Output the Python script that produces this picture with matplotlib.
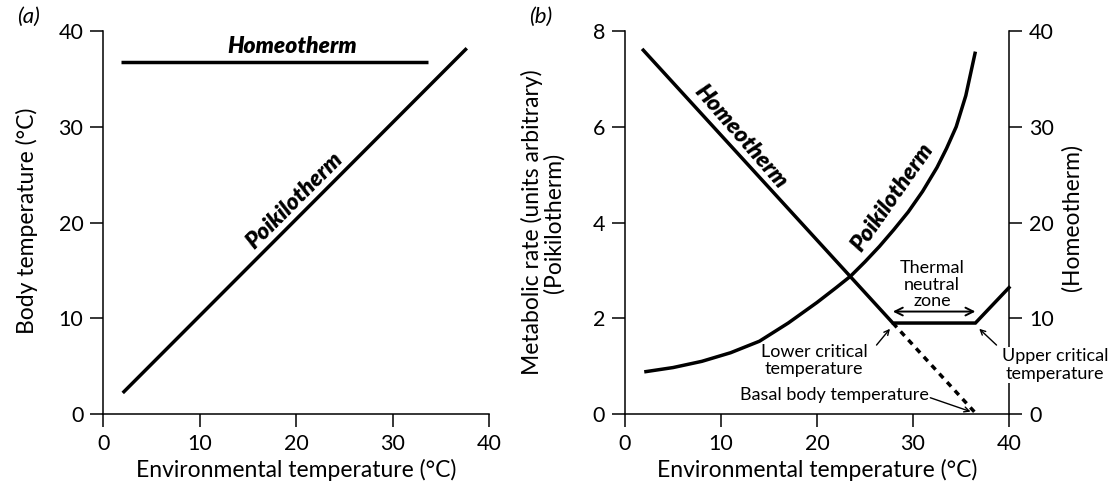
import numpy as np
import matplotlib
matplotlib.use("Agg")
import matplotlib.pyplot as plt

plt.rcParams['font.family'] = ['Lato', 'DejaVu Sans']
plt.rcParams['font.size'] = 15

# panel (a): body temperature vs environmental temperature
a_homeo_x = [1.8, 33.7]
a_homeo_y = [36.8, 36.8]
a_poik_x = [2.0, 37.7]
a_poik_y = [2.2, 38.2]

# panel (b): metabolic rate
b_poik_x = [2, 5, 8, 11, 14, 17, 20, 22, 23.5, 25, 26.5, 28, 29.5, 31, 32.5, 33.5, 34.5, 35.5, 36.5]
b_poik_y = [0.88, 0.97, 1.1, 1.28, 1.52, 1.9, 2.33, 2.64, 2.88, 3.18, 3.5, 3.85, 4.22, 4.65, 5.15, 5.55, 6.0, 6.65, 7.57]
b_homeo_x = [1.9, 27.9, 36.5, 40]
b_homeo_y = [38.0, 9.5, 9.5, 13.2]
b_basal_x = [27.9, 36.6]
b_basal_y = [9.5, 0.0]

ticks40 = [0, 10, 20, 30, 40]
ticks8 = [0, 2, 4, 6, 8]

LW = 2.5
SP = 1.1
TICKFS = 15.5
LABFS = 16.5
CURVEFS = 16.5
NOTEFS = 13


def style(ax, right=False):
    ax.spines['top'].set_visible(False)
    ax.spines['right'].set_visible(right)
    for s in ax.spines.values():
        s.set_linewidth(SP)
    ax.tick_params(direction='out', length=9.5, width=SP, pad=5, labelsize=TICKFS)


def bold_it(ax, x, y, s, rot=0):
    ax.text(x, y, s, fontsize=CURVEFS, fontweight='heavy', style='italic',
            ha='center', va='center', rotation=rot, rotation_mode='anchor')


fig = plt.figure(figsize=(11.1, 4.87), dpi=100)

# ---------- (a)
ax = fig.add_axes([0.0932, 0.1499, 0.3473, 0.7864])
style(ax)
ax.plot(a_homeo_x, a_homeo_y, color='black', lw=LW, solid_capstyle='butt')
ax.plot(a_poik_x, a_poik_y, color='black', lw=LW, solid_capstyle='butt')
ax.set_xlim(0, 40)
ax.set_ylim(0, 40)
ax.set_xticks(ticks40)
ax.set_yticks(ticks40)
ax.set_xlabel('Environmental temperature (°C)', fontsize=LABFS)
ax.set_ylabel('Body temperature (°C)', fontsize=LABFS)
ax.xaxis.set_label_coords(0.5, -0.147)
ax.xaxis.label.set_va('center')
ax.yaxis.set_label_coords(-0.198, 0.504)
ax.yaxis.label.set_va('center')
bold_it(ax, 19.6, 38.4, 'Homeotherm')
bold_it(ax, 19.8, 22.3, 'Poikilotherm', 45)
fig.text(0.015, 0.966, '(a)', fontsize=16, style='italic', va='center')

# ---------- (b)
bx = fig.add_axes([0.5631, 0.1499, 0.3459, 0.7864])
style(bx)
bx.plot(b_poik_x, b_poik_y, color='black', lw=LW, solid_capstyle='butt')
bx.set_xlim(0, 40)
bx.set_ylim(0, 8)
bx.set_xticks(ticks40)
bx.set_yticks(ticks8)
bx.set_xlabel('Environmental temperature (°C)', fontsize=LABFS)
bx.xaxis.set_label_coords(0.5, -0.147)
bx.xaxis.label.set_va('center')
bx.set_ylabel('Metabolic rate (units arbitrary)\n(Poikilotherm)', fontsize=LABFS,
              linespacing=1.0)
bx.yaxis.set_label_coords(-0.2135, 0.5)
bx.yaxis.label.set_va('center')

rx = bx.twinx()
style(rx, right=True)
rx.spines['left'].set_visible(False)
rx.spines['bottom'].set_visible(False)
rx.set_ylim(0, 40)
rx.set_yticks(ticks40)
rx.set_ylabel('(Homeotherm)', fontsize=LABFS)
rx.yaxis.set_label_coords(1.164, 0.514)
rx.yaxis.label.set_va('center')
rx.plot(b_homeo_x, b_homeo_y, color='black', lw=LW, solid_joinstyle='miter',
        clip_on=False)
rx.plot(b_basal_x, b_basal_y, color='black', lw=LW, linestyle=(0, (1.7, 1.6)))

bold_it(rx, 12.1, 29.0, 'Homeotherm', -49)
bold_it(rx, 27.9, 22.6, 'Poikilotherm', 55)

rx.text(32.0, 13.5, 'Thermal\nneutral\nzone', fontsize=NOTEFS, ha='center',
        va='center', linespacing=1.05)
rx.annotate('', xy=(27.9, 10.7), xytext=(36.5, 10.7),
            arrowprops=dict(arrowstyle='<->', lw=1.4, color='black',
                            shrinkA=0, shrinkB=0, mutation_scale=14))

rx.text(19.7, 5.6, 'Lower critical\ntemperature', fontsize=NOTEFS, ha='center',
        va='center', linespacing=1.05)
rx.annotate('', xy=(27.6, 8.9), xytext=(26.2, 7.2),
            arrowprops=dict(arrowstyle='->', lw=1.0, color='black',
                            shrinkA=0, shrinkB=0, mutation_scale=9))

rx.text(44.8, 5.1, 'Upper critical\ntemperature', fontsize=NOTEFS, ha='center',
        va='center', linespacing=1.15, clip_on=False,
        bbox=dict(facecolor='white', edgecolor='none', pad=0.5))
rx.annotate('', xy=(36.9, 8.9), xytext=(38.7, 7.2),
            arrowprops=dict(arrowstyle='->', lw=1.0, color='black',
                            shrinkA=0, shrinkB=0, mutation_scale=9))

rx.text(21.8, 2.0, 'Basal body temperature', fontsize=NOTEFS, ha='center',
        va='center')
rx.annotate('', xy=(36.0, 0.25), xytext=(31.8, 1.7),
            arrowprops=dict(arrowstyle='->', lw=1.0, color='black',
                            shrinkA=0, shrinkB=0, mutation_scale=9))

fig.text(0.477, 0.966, '(b)', fontsize=16, style='italic', va='center')

fig.savefig('out.png', dpi=100)
